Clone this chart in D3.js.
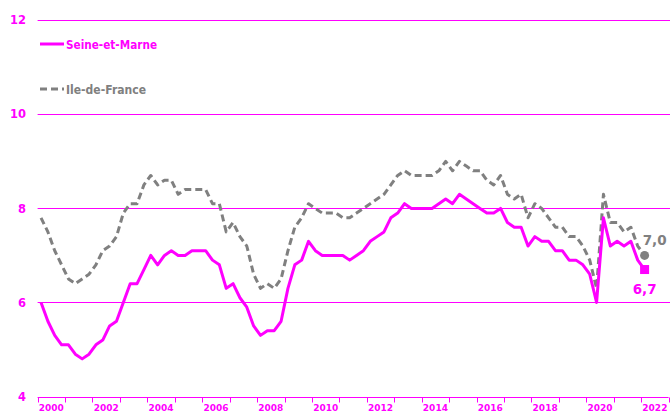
<!DOCTYPE html>
<html>
<head>
<meta charset="utf-8">
<script src="https://cdn.jsdelivr.net/npm/d3@7"></script>
<style>
  html, body { margin: 0; padding: 0; background: #fff; }
  svg { display: block; }
  text { font-family: "DejaVu Sans", Verdana, sans-serif; }
</style>
</head>
<body>
<svg id="chart" width="670" height="414"></svg>
<script>
// ---- Data (quarterly, 2000 Q1 -> 2022 Q1) ----
const years = d3.range(2000, 2023);           // 23 year bands on the axis
const yearLabels = ["2000","2002","2004","2006","2008","2010","2012","2014","2016","2018","2020","2022"];
const yTicks = [4, 6, 8, 10, 12];
const seriesNames = ["Seine-et-Marne", "Ile-de-France"];

const seineEtMarne = [
  6.0,5.6,5.3,5.1, 5.1,4.9,4.8,4.9, 5.1,5.2,5.5,5.6, 6.0,6.4,6.4,6.7,
  7.0,6.8,7.0,7.1, 7.0,7.0,7.1,7.1, 7.1,6.9,6.8,6.3, 6.4,6.1,5.9,5.5,
  5.3,5.4,5.4,5.6, 6.3,6.8,6.9,7.3, 7.1,7.0,7.0,7.0, 7.0,6.9,7.0,7.1,
  7.3,7.4,7.5,7.8, 7.9,8.1,8.0,8.0, 8.0,8.0,8.1,8.2, 8.1,8.3,8.2,8.1,
  8.0,7.9,7.9,8.0, 7.7,7.6,7.6,7.2, 7.4,7.3,7.3,7.1, 7.1,6.9,6.9,6.8,
  6.6,6.0,7.8,7.2, 7.3,7.2,7.3,6.9, 6.7
];
const ileDeFrance = [
  7.8,7.5,7.1,6.8, 6.5,6.4,6.5,6.6, 6.8,7.1,7.2,7.4, 7.9,8.1,8.1,8.5,
  8.7,8.5,8.6,8.6, 8.3,8.4,8.4,8.4, 8.4,8.1,8.1,7.5, 7.7,7.4,7.2,6.6,
  6.3,6.4,6.3,6.5, 7.1,7.6,7.8,8.1, 8.0,7.9,7.9,7.9, 7.8,7.8,7.9,8.0,
  8.1,8.2,8.3,8.5, 8.7,8.8,8.7,8.7, 8.7,8.7,8.8,9.0, 8.8,9.0,8.9,8.8,
  8.8,8.6,8.5,8.7, 8.3,8.2,8.3,7.8, 8.1,8.0,7.8,7.6, 7.6,7.4,7.4,7.2,
  6.9,6.3,8.3,7.7, 7.7,7.5,7.6,7.2, 7.0
];
const lastLabels = ["6,7", "7,0"];

// ---- Layout ----
const MAG = "#FF00FF", GREY = "#808080";
const svg = d3.select("#chart");
const x0 = 37.6, x1 = 668.6;
const yTop = 20.3, yBot = 396.5;

const nQuarters = years.length * 4;
const xq = d3.scaleBand().domain(d3.range(nQuarters)).range([x0, x1]).paddingInner(0).paddingOuter(0);
const xYear = d3.scaleBand().domain(years).range([x0, x1]);
const y = d3.scaleLinear().domain([4, 12]).range([yBot, yTop]);
const qx = i => xq(i) + xq.bandwidth() / 2;

// gridlines
svg.append("g").selectAll("line").data(yTicks.filter(v => v > 4)).join("line")
  .attr("x1", x0).attr("x2", 670)
  .attr("y1", d => Math.round(y(d)) + 0.5).attr("y2", d => Math.round(y(d)) + 0.5)
  .attr("stroke", MAG).attr("stroke-width", 1);

// y labels
svg.append("g").selectAll("text").data(yTicks).join("text")
  .attr("x", 26).attr("y", d => y(d))
  .attr("dy", "0.36em").attr("text-anchor", "end")
  .attr("font-size", 11.5).attr("font-weight", "bold").attr("fill", MAG)
  .text(d => d);

// x axis
const xAxisG = svg.append("g").attr("transform", `translate(0,${Math.round(yBot) + 0.5})`);
xAxisG.append("line").attr("x1", x0).attr("x2", x1).attr("stroke", MAG).attr("stroke-width", 1);
const tickPos = years.map(yr => xYear(yr)).concat([x1]);
xAxisG.selectAll("line.tk").data(tickPos).join("line").attr("class", "tk")
  .attr("x1", d => Math.round(d) + 0.5).attr("x2", d => Math.round(d) + 0.5)
  .attr("y1", 0).attr("y2", 5).attr("stroke", MAG).attr("stroke-width", 1);
xAxisG.selectAll("text").data(yearLabels).join("text")
  .attr("x", d => xYear(+d) + xYear.bandwidth() / 2)
  .attr("y", 13.5)
  .attr("text-anchor", "middle").attr("font-size", 9).attr("font-weight", "bold")
  .attr("fill", MAG).text(d => d);

// lines
const line = d3.line().x((d, i) => qx(i)).y(d => y(d));
svg.append("path").datum(ileDeFrance)
  .attr("d", line).attr("fill", "none").attr("stroke", GREY)
  .attr("stroke-width", 3).attr("stroke-dasharray", "7,4").attr("stroke-linejoin", "round");
svg.append("path").datum(seineEtMarne)
  .attr("d", line).attr("fill", "none").attr("stroke", MAG)
  .attr("stroke-width", 3).attr("stroke-linejoin", "round");

// end markers
const li = seineEtMarne.length - 1;
svg.append("circle").attr("cx", qx(li)).attr("cy", y(ileDeFrance[li])).attr("r", 4.5).attr("fill", GREY);
svg.append("rect").attr("x", qx(li) - 4.5).attr("y", y(seineEtMarne[li]) - 4.5)
  .attr("width", 9).attr("height", 9).attr("fill", MAG);
svg.append("text").attr("x", qx(li) + 10).attr("y", y(ileDeFrance[li]) - 10)
  .attr("text-anchor", "middle").attr("font-size", 13.5).attr("font-weight", "bold").attr("fill", GREY)
  .text(lastLabels[1]);
svg.append("text").attr("x", qx(li)).attr("y", y(seineEtMarne[li]) + 24)
  .attr("text-anchor", "middle").attr("font-size", 13.5).attr("font-weight", "bold").attr("fill", MAG)
  .text(lastLabels[0]);

// legend
const leg = svg.append("g");
leg.append("line").attr("x1", 40).attr("x2", 64).attr("y1", 44).attr("y2", 44)
  .attr("stroke", MAG).attr("stroke-width", 3);
leg.append("text").attr("x", 66).attr("y", 44).attr("dy", "0.36em")
  .attr("font-size", 12.5).attr("font-weight", "bold").attr("fill", MAG)
  .attr("textLength", 91).attr("lengthAdjust", "spacingAndGlyphs")
  .text(seriesNames[0]);
leg.append("line").attr("x1", 40).attr("x2", 64).attr("y1", 89).attr("y2", 89)
  .attr("stroke", GREY).attr("stroke-width", 3).attr("stroke-dasharray", "7,4");
leg.append("text").attr("x", 66).attr("y", 89).attr("dy", "0.36em")
  .attr("font-size", 12.5).attr("font-weight", "bold").attr("fill", GREY)
  .attr("textLength", 80).attr("lengthAdjust", "spacingAndGlyphs")
  .text(seriesNames[1]);
</script>
</body>
</html>
